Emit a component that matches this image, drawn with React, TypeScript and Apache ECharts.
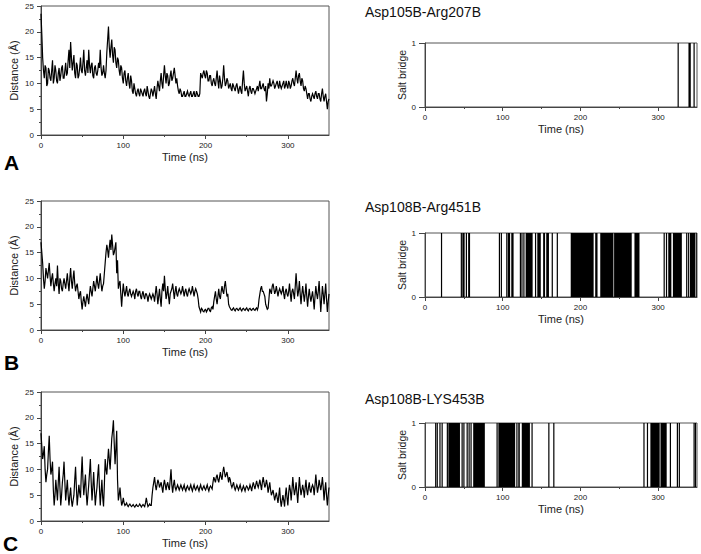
import React, { useEffect, useRef } from "react";
import * as echarts from "echarts";

// Distance (Å) at even times t = 0, 2, … 350 ns
const distA = [
  23.5, 15, 11, 13, 10, 12.5, 10.5, 14.5, 11, 12.5,
  10, 13, 11.5, 13.5, 11, 14, 12, 16.5, 18, 12.5,
  15.5, 11, 13.5, 11.5, 15, 12, 16.5, 11.5, 14.5, 16.5,
  12, 14, 11, 13.5, 11.5, 14, 16.5, 11.5, 13.5, 11,
  16, 21, 15, 18.5, 14, 16.5, 13, 14.5, 11.5, 13,
  10, 12.5, 9.5, 12, 9, 10.5, 8, 9, 7.5, 9,
  7.5, 8.5, 7.5, 9, 7.5, 8.5, 7, 9, 7.5, 9.5,
  7, 10.5, 8.5, 12, 9, 13.5, 10, 11.5, 10, 12.5,
  11, 13, 10, 9.5, 8, 8.5, 7.5, 8.5, 7.5, 8.5,
  7.5, 8.5, 7.5, 8.5, 7.5, 8, 7.5, 12, 11, 12.5,
  11, 12, 10.5, 11.5, 9.5, 11, 9.5, 12.5, 9, 10.5,
  9.5, 13.5, 9.5, 11, 9, 10, 8.5, 9.5, 8.5, 10,
  8, 9.5, 8, 12.5, 8.5, 9.5, 7.5, 9.5, 8, 9,
  8, 9, 8.5, 10.5, 9, 10, 8.5, 6.5, 10, 11,
  9.5, 10.5, 9, 10, 9.5, 10.5, 9, 10, 9, 10.5,
  9, 10, 9.5, 11, 9.5, 12.5, 10, 12, 9.5, 10.5,
  8.5, 9, 7, 8, 6.5, 8, 7, 8.5, 7, 8,
  6.5, 9, 6.5, 8, 5, 7,
];
// Distance (Å) at odd times t = 1, 3, … 349 ns
const distAOdd = [
  19.5, 12.5, 13.5, 9.5, 13, 11, 12.5, 10, 13.5, 10.5,
  12, 10.5, 13, 11, 12.5, 11.5, 14.5, 13, 15, 14,
  12, 14, 11, 13, 12.5, 14, 12.5, 13, 12, 13.5,
  13.5, 11.5, 13, 12, 12.5, 13, 13, 12, 12, 12.5,
  18.5, 17, 17, 15.5, 17, 14, 15, 12.5, 13.5, 11,
  12, 10.5, 11, 10, 11.5, 8.5, 10, 8, 8.5, 8,
  9, 8, 8.5, 8, 9.5, 7.5, 8, 8.5, 8.5, 8,
  9, 9.5, 10.5, 10, 11.5, 11.5, 12, 9.5, 11.5, 10.5,
  12, 11.5, 11, 8.5, 9, 7.5, 8, 7.5, 8, 7.8,
  8, 7.5, 8, 7.5, 8.5, 7.5, 8, 11.5, 12, 11.5,
  12.5, 10.5, 11.5, 10, 10.5, 10, 11, 10.5, 11.5, 9,
  11, 11, 10, 10.5, 9.5, 9, 10, 9, 9.5, 9,
  9, 8.5, 10.5, 10, 9, 8.5, 9, 8.5, 9, 8.5,
  8.5, 9.5, 9.5, 9, 9.5, 9, 9.5, 8, 9, 9.5,
  10, 10, 9.5, 10.5, 9, 9.5, 9.5, 10.5, 9.5, 9.5,
  10.5, 9, 10.5, 10, 11, 11, 11.5, 10.5, 11, 9,
  9.5, 8, 8, 7, 7.5, 7.5, 8, 7.5, 8, 7,
  8, 7.5, 7.5, 6.5, 6.5,
];

const distB = [
  17, 13, 8, 12, 10, 13, 8.5, 11, 7.5, 10,
  12.5, 7, 9.5, 7.5, 10, 8, 11, 7.5, 12, 8,
  11.5, 7.5, 9, 6, 7.5, 4, 6.5, 4.5, 7, 5,
  8.5, 6.5, 9.5, 7.5, 10.5, 8, 11, 7.5, 9, 13,
  16.5, 14, 17.5, 18.5, 14.5, 16, 11, 8, 9.5, 4.5,
  9, 6.5, 8.5, 6.5, 8, 6.5, 7.5, 6, 8, 6.5,
  7.5, 6, 7.5, 6, 7, 5.5, 7, 6, 7, 5.5,
  8.5, 5, 8, 4.5, 9, 10.5, 6, 8.5, 5, 7.5,
  9, 6, 8.5, 6.5, 8, 7, 8.5, 6.5, 8, 6.5,
  8, 7, 8.5, 6.5, 8, 7, 4.5, 3.5, 4, 3.5,
  4, 3.8, 4.2, 3.6, 4.5, 5.5, 7.5, 5, 8, 6,
  8.5, 7, 9.5, 6.5, 5, 4.2, 3.8, 4.3, 3.7, 4.2,
  3.8, 4.3, 3.7, 4.2, 3.8, 4.3, 3.7, 4.2, 3.8, 4.2,
  3.8, 4.3, 4.5, 7, 8.5, 7.5, 6.5, 4.5, 4.2, 8,
  7, 9, 7, 8.5, 6.5, 8, 7, 8.5, 6, 8,
  6.5, 9, 5.5, 8, 6, 11, 6.5, 9.5, 5, 8.5,
  5.5, 9, 4.5, 8, 5.5, 7.5, 4, 8.5, 6, 9.5,
  3.5, 8.5, 5, 9, 3.5, 7,
];
const distBOdd = [
  15, 10, 9.5, 11, 11.5, 10.5, 10, 9, 9, 8.5,
  9, 10, 8, 9, 9, 9.5, 9, 10, 9.5, 10,
  9, 8.5, 7.5, 7, 5.5, 5.5, 5.5, 6, 6, 7,
  7.5, 8, 8.5, 9, 9, 9.5, 9, 8.5, 11, 15,
  15.5, 16, 15.5, 16.5, 15, 17, 13.5, 9, 7, 7,
  7.5, 7.5, 7, 7.5, 7, 7, 7, 7.5, 7, 7.5,
  6.5, 7, 6.5, 7, 6.5, 6.5, 6.5, 6.5, 6.5, 7,
  7, 6.5, 6, 7.5, 7.5, 8, 7, 6.5, 7, 8,
  7.5, 7.5, 7, 7.5, 7.5, 7.5, 7.5, 7.5, 7, 7.5,
  7.5, 7.5, 7.5, 7.5, 7.5, 6, 4, 4.2, 3.6, 3.9,
  3.5, 4.2, 3.7, 4.3, 4, 6.5, 6, 6.5, 6.5, 7.5,
  7.5, 8.5, 8, 7, 4.5, 3.9, 4.1, 3.9, 4.1, 3.9,
  4.1, 3.9, 4.1, 3.9, 4.1, 3.9, 4.1, 3.9, 4.1, 3.9,
  4.1, 3.9, 6, 8, 7.5, 7, 5, 4, 6, 7.5,
  8.5, 8, 7.5, 7.5, 7.5, 7.5, 7.5, 7, 7.5, 7,
  7.5, 7, 7.5, 7, 8.5, 8.5, 7.5, 7, 7, 7,
  7, 6.5, 6.5, 6.5, 6.5, 6, 6.5, 7, 7.5, 6.5,
  6, 7, 7, 6, 5.5,
];

const distC = [
  17, 12, 14.5, 7.5, 10, 16.5, 9, 11.5, 3, 8,
  4, 10.5, 3, 7.5, 11.5, 4, 8, 3, 6.5, 2.8,
  5, 10.5, 3, 7, 4.5, 12.5, 5, 9, 3, 7,
  12, 4, 9.5, 3, 6.5, 11, 3, 8, 2.8, 12,
  9, 14, 10, 16, 19.5, 11, 17.5, 4, 6.5, 3,
  4.5, 3, 3.5, 2.8, 3.3, 2.8, 3.2, 2.7, 3.2, 2.8,
  3.3, 2.7, 3.2, 2.8, 4.5, 2.8, 3.3, 3, 6.5, 8.5,
  6, 8, 6.5, 7.5, 5.5, 8, 6, 7.5, 6, 10,
  5.5, 8, 6, 7, 6, 7, 6, 7, 5.8, 6.8,
  6, 7, 5.8, 7, 6, 6.8, 5.8, 7, 6, 6.8,
  6, 7, 5.8, 6.8, 6.2, 8.5, 7.5, 9, 7.5, 9.5,
  8, 10.5, 8.5, 9.5, 7.5, 8, 6.5, 7.5, 6, 7,
  6, 7, 5.8, 6.8, 5.8, 6.8, 6, 7, 5.8, 7.5,
  6.2, 7.8, 6.5, 8, 6, 8.5, 6.5, 8, 5.5, 7.5,
  5, 6, 4, 5.5, 3.5, 6.5, 2.8, 5, 2.8, 6.5,
  3, 7, 4, 8.5, 5, 7.5, 3.5, 8.5, 5, 7,
  4.5, 8, 5, 7.5, 5.5, 7, 5, 9, 5.5, 8,
  6, 8.5, 4, 7.5, 3, 6.5,
];
const distCOdd = [
  14.5, 13, 10, 9, 13.5, 12, 10, 6, 5, 6,
  7.5, 6.5, 5, 9, 7.5, 6, 5, 5, 4, 4,
  8, 6.5, 5, 5.5, 9, 8, 7, 5.5, 5, 9.5,
  7.5, 6.5, 6, 5, 9, 6.5, 5.5, 4.5, 7, 10,
  11.5, 12, 13, 17.5, 15, 14, 8, 5, 4.5, 3.5,
  3.5, 3.2, 3, 3.1, 3, 3, 2.9, 3, 2.9, 3,
  3, 3, 3, 3.5, 3.5, 3, 3, 5, 7.5, 7,
  7, 7.5, 7, 6.5, 7, 7, 7, 6.5, 8, 7,
  7, 6.5, 6.5, 6.5, 6.5, 6.5, 6.5, 6.2, 6.5, 6.3,
  6.5, 6.3, 6.5, 6.3, 6.5, 6.3, 6.5, 6.3, 6.5, 6.3,
  6.5, 6.3, 6.5, 6.5, 7.5, 8, 8.5, 8, 8.5, 8.5,
  9.5, 9.5, 9, 8.5, 8.5, 7, 7, 6.5, 6.5, 6.5,
  6.5, 6.3, 6.3, 6.3, 6.5, 6.5, 6.3, 6.5, 6.8, 6.8,
  7, 7, 7.2, 7, 7.5, 7.5, 7, 7, 6.5, 6,
  5.5, 5, 4.8, 4.5, 5, 4, 4, 4, 5, 4.5,
  5.5, 6, 6, 6.5, 6, 5.5, 6, 6.5, 6, 6,
  6.5, 6, 6.5, 6, 6.5, 6.5, 7, 7, 6.5, 7,
  7, 6.5, 6, 5, 5,
];

// Salt bridge present (=1) intervals, [start ns, end ns]
const bridgeA = [
  [325, 325.6], [339, 342], [345.5, 346.3],
];

const bridgeB = [
  [20.5, 21], [46, 47], [48, 51], [52.5, 53.5], [55.5, 58],
  [95, 96], [97.5, 99],
  [104.5, 105.2], [106.5, 109.5], [111, 114],
  [122, 122.6], [124, 125], [126.5, 127.5], [129.5, 138.5],
  [141.5, 143], [144.5, 149],
  [152, 154.5], [156, 159.5], [163, 163.6],
  [169.5, 170.2],
  [187.5, 217], [219, 222], [225.5, 242.5], [243.3, 266], [269.5, 276],
  [307, 308], [310, 311], [313, 317], [319, 330.5],
  [336, 337], [338.5, 339.2], [341, 348], [349, 349.6],
];

const bridgeC = [
  [13, 13.6], [15, 16.5], [18.5, 19.3], [21.3, 21.9],
  [28, 28.6], [30, 45], [47, 47.6], [49.3, 49.9],
  [53.5, 54.1], [56, 57], [58.5, 60], [62, 77],
  [92, 92.6], [94.4, 116], [117.5, 119], [120, 122], [124.5, 135], [137, 137.6],
  [158.6, 159.2], [165, 165.6],
  [281, 281.6], [285.5, 286.1], [290, 302], [303, 311], [315, 315.6],
  [324, 325], [326.5, 328],
  [345.5, 346.3], [347.3, 347.9],
];

const pairTitles = ["Asp105B-Arg207B", "Asp108B-Arg451B", "Asp108B-LYS453B"];
const panelLetters = ["A", "B", "C"];
const xTickValues = [0, 100, 200, 300];
const xMinorTickValues = [50, 150, 250];
const distanceTicks = [0, 5, 10, 15, 20, 25];
const bridgeTicks = [0, 1];

const FONT = "'Liberation Sans', Arial, Helvetica, sans-serif";
const AXIS_COLOR = "#444";
const LABEL_COLOR = "#222";

function mergeSeries(even: number[], odd: number[]) {
  const out: number[][] = [];
  for (let k = 0; k < even.length; k++) {
    out.push([2 * k, even[k]]);
    if (k < odd.length) out.push([2 * k + 1, odd[k]]);
  }
  return out;
}

export default function App() {
  const ref = useRef<HTMLDivElement>(null);

  useEffect(() => {
    if (!ref.current) return;
    const chart = echarts.init(ref.current, undefined, { renderer: "svg" });

    const distances = [
      mergeSeries(distA, distAOdd),
      mergeSeries(distB, distBOdd),
      mergeSeries(distC, distCOdd),
    ];
    const bridges = [bridgeA, bridgeB, bridgeC];
    const leftTops = [6, 201, 392];
    const rightTops = [43, 233, 423];
    const titleYs = [12, 207, 399];
    const letterYs = [162, 362, 543];

    const grids: any[] = [];
    const xAxes: any[] = [];
    const yAxes: any[] = [];
    const series: any[] = [];
    const graphics: any[] = [];

    const mainX = (gridIndex: number, nameGap: number) => ({
      gridIndex,
      type: "value",
      min: 0,
      max: 350,
      position: "bottom",
      axisLine: { show: true, lineStyle: { color: AXIS_COLOR, width: 1 } },
      axisTick: { show: true, customValues: xTickValues, length: 4, lineStyle: { color: AXIS_COLOR } },
      axisLabel: { customValues: xTickValues, fontSize: 8, color: LABEL_COLOR, margin: 6, fontFamily: FONT },
      splitLine: { show: false },
      name: "Time (ns)",
      nameLocation: "middle",
      nameGap,
      nameTextStyle: { fontSize: 11, color: LABEL_COLOR, fontFamily: FONT },
    });
    const minorX = (gridIndex: number) => ({
      gridIndex,
      type: "value",
      min: 0,
      max: 350,
      position: "bottom",
      axisLine: { show: false },
      axisTick: { show: true, customValues: xMinorTickValues, length: 2, lineStyle: { color: AXIS_COLOR } },
      axisLabel: { show: false },
      splitLine: { show: false },
    });

    for (let i = 0; i < 3; i++) {
      const gL = 2 * i;
      const gR = 2 * i + 1;
      grids.push({
        left: 41, top: leftTops[i], width: 288, height: 129,
        show: true, borderColor: "#555", borderWidth: 1, backgroundColor: "transparent",
      });
      grids.push({
        left: 425, top: rightTops[i], width: 272, height: 64,
        show: true, borderColor: "#555", borderWidth: 1, backgroundColor: "transparent",
      });

      xAxes.push(mainX(gL, 16));
      xAxes.push(minorX(gL));
      xAxes.push(mainX(gR, 16));
      xAxes.push(minorX(gR));

      yAxes.push({
        gridIndex: gL,
        type: "value",
        min: distanceTicks[0],
        max: distanceTicks[distanceTicks.length - 1],
        interval: 5,
        axisLine: { show: true, lineStyle: { color: AXIS_COLOR, width: 1 } },
        axisTick: { show: true, length: 4, lineStyle: { color: AXIS_COLOR } },
        minorTick: { show: true, splitNumber: 2, length: 2, lineStyle: { color: AXIS_COLOR } },
        axisLabel: { fontSize: 8, color: LABEL_COLOR, margin: 7, fontFamily: FONT },
        splitLine: { show: false },
        name: "Distance (Å)",
        nameLocation: "middle",
        nameGap: 22,
        nameTextStyle: { fontSize: 11, color: LABEL_COLOR, fontFamily: FONT },
      });
      yAxes.push({
        gridIndex: gR,
        type: "value",
        min: bridgeTicks[0],
        max: bridgeTicks[1],
        interval: 1,
        axisLine: { show: true, lineStyle: { color: AXIS_COLOR, width: 1 } },
        axisTick: { show: true, length: 6, lineStyle: { color: AXIS_COLOR } },
        axisLabel: { fontSize: 8, color: LABEL_COLOR, margin: 9, fontFamily: FONT },
        splitLine: { show: false },
        name: "Salt bridge",
        nameLocation: "middle",
        nameGap: 17,
        nameTextStyle: { fontSize: 10.5, color: LABEL_COLOR, fontFamily: FONT },
      });

      series.push({
        type: "line",
        xAxisIndex: 4 * i,
        yAxisIndex: gL,
        data: distances[i],
        showSymbol: false,
        symbol: "none",
        lineStyle: { color: "#000", width: 1.2, join: "miter", miterLimit: 4 },
        silent: true,
      });

      series.push({
        type: "custom",
        xAxisIndex: 4 * i + 2,
        yAxisIndex: gR,
        data: bridges[i],
        encode: { x: [0, 1] },
        clip: true,
        silent: true,
        renderItem: (params: any, api: any) => {
          const p0 = api.coord([api.value(0), 1]);
          const p1 = api.coord([api.value(1), 0]);
          const w = Math.max(p1[0] - p0[0], 1.2);
          return {
            type: "rect",
            shape: { x: p0[0], y: p0[1], width: w, height: p1[1] - p0[1] },
            style: { fill: "#000" },
          };
        },
      });

      graphics.push({
        type: "text",
        x: 365,
        y: titleYs[i],
        style: {
          text: pairTitles[i],
          font: `14px ${FONT}`,
          fill: "#111",
          verticalAlign: "middle",
          align: "left",
        },
      });
      graphics.push({
        type: "text",
        x: i === 2 ? 3 : 4,
        y: letterYs[i],
        style: {
          text: panelLetters[i],
          font: `bold 21px ${FONT}`,
          fill: "#000",
          verticalAlign: "middle",
          align: "left",
        },
      });
    }

    chart.setOption({
      animation: false,
      backgroundColor: "#fff",
      grid: grids,
      xAxis: xAxes,
      yAxis: yAxes,
      series,
      graphic: graphics,
    });

    return () => chart.dispose();
  }, []);

  return (
    <div
      ref={ref}
      style={{ position: "absolute", left: 0, top: 0, width: 701, height: 554 }}
    />
  );
}
